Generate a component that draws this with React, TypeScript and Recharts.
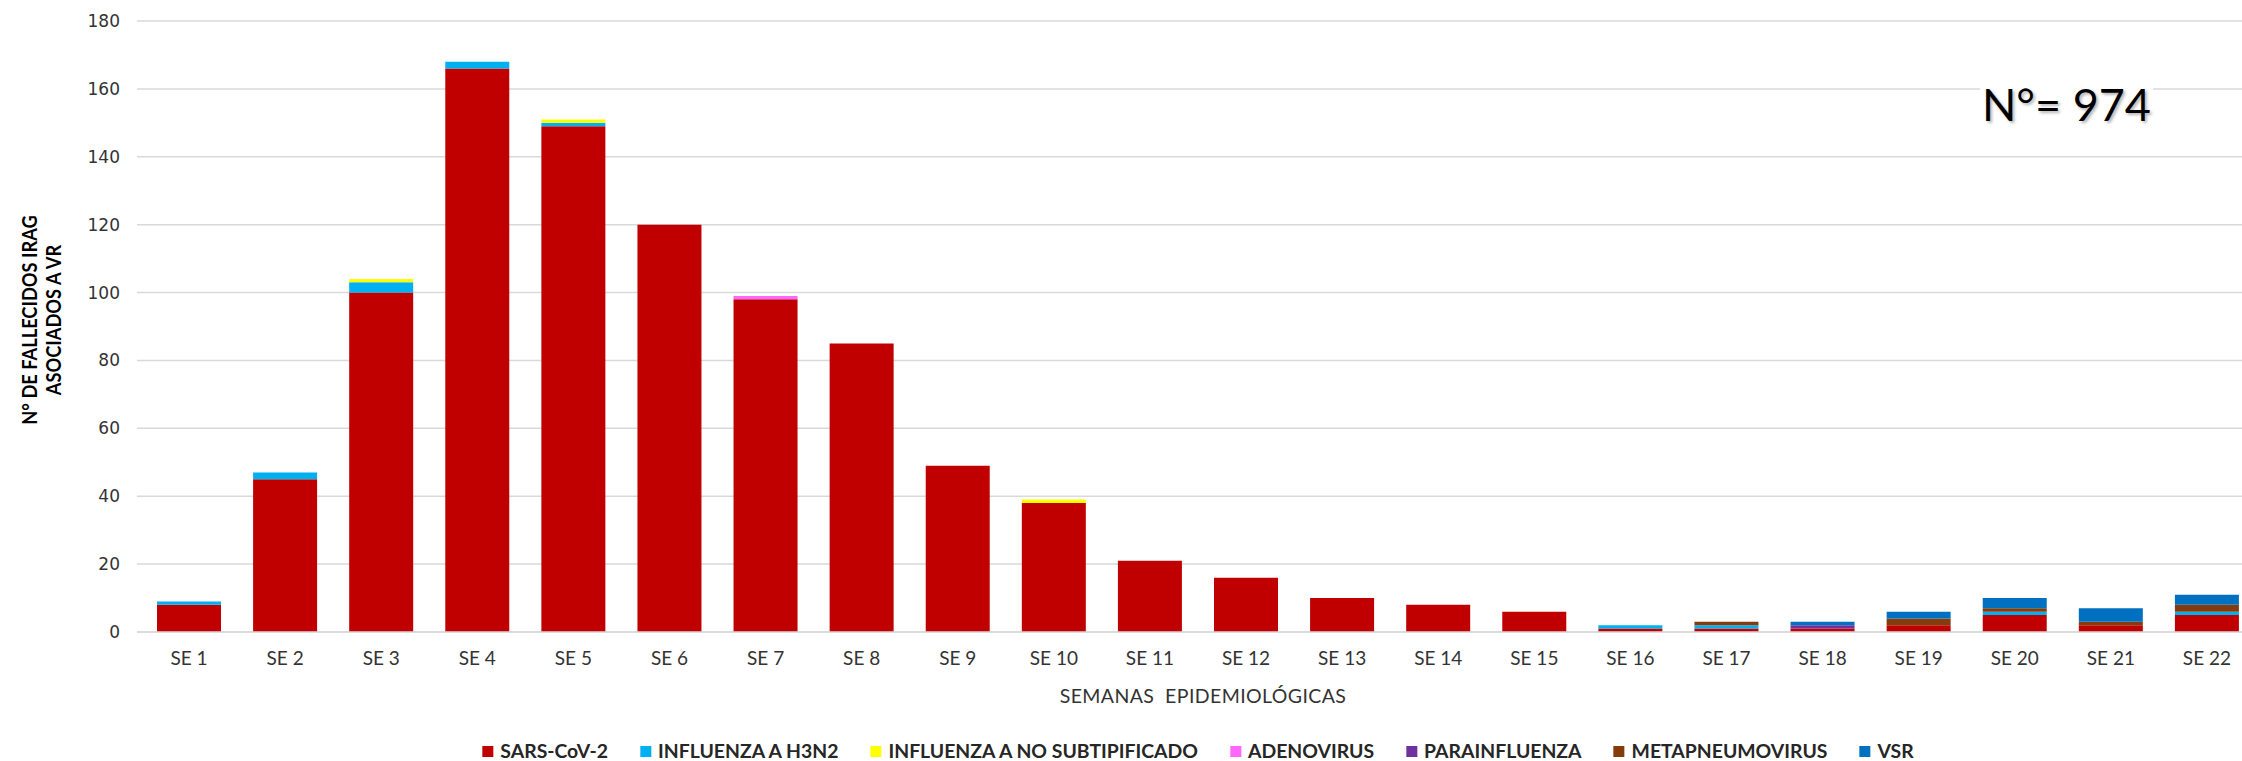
import React from "react";
import { BarChart, Bar, XAxis, YAxis, CartesianGrid } from "recharts";

const categories = [
  "SE 1", "SE 2", "SE 3", "SE 4", "SE 5", "SE 6", "SE 7", "SE 8", "SE 9", "SE 10", "SE 11",
  "SE 12", "SE 13", "SE 14", "SE 15", "SE 16", "SE 17", "SE 18", "SE 19", "SE 20", "SE 21", "SE 22",
];
const sarsCov2 = [8, 45, 100, 166, 149, 120, 98, 85, 49, 38, 21, 16, 10, 8, 6, 1, 1, 1, 2, 5, 2, 5];
const influenzaH3N2 = [1, 2, 3, 2, 1, 0, 0, 0, 0, 0, 0, 0, 0, 0, 0, 1, 1, 0, 0, 1, 0, 1];
const influenzaNoSub = [0, 0, 1, 0, 1, 0, 0, 0, 0, 1, 0, 0, 0, 0, 0, 0, 0, 0, 0, 0, 0, 0];
const adenovirus = [0, 0, 0, 0, 0, 0, 1, 0, 0, 0, 0, 0, 0, 0, 0, 0, 0, 0, 0, 0, 0, 0];
const parainfluenza = [0, 0, 0, 0, 0, 0, 0, 0, 0, 0, 0, 0, 0, 0, 0, 0, 0, 1, 0, 0, 0, 0];
const metapneumovirus = [0, 0, 0, 0, 0, 0, 0, 0, 0, 0, 0, 0, 0, 0, 0, 0, 1, 0, 2, 1, 1, 2];
const vsr = [0, 0, 0, 0, 0, 0, 0, 0, 0, 0, 0, 0, 0, 0, 0, 0, 0, 1, 2, 3, 4, 3];
const yTicks = [0, 20, 40, 60, 80, 100, 120, 140, 160, 180];
const totalLabel = "N°= 974";

const series = [
  { key: "sars", name: "SARS-CoV-2", color: "#C00000", values: sarsCov2 },
  { key: "h3n2", name: "INFLUENZA A H3N2", color: "#00B0F0", values: influenzaH3N2 },
  { key: "nosub", name: "INFLUENZA A NO SUBTIPIFICADO", color: "#FFFF00", values: influenzaNoSub },
  { key: "adeno", name: "ADENOVIRUS", color: "#FF66FF", values: adenovirus },
  { key: "para", name: "PARAINFLUENZA", color: "#7030A0", values: parainfluenza },
  { key: "metap", name: "METAPNEUMOVIRUS", color: "#843C0C", values: metapneumovirus },
  { key: "vsr", name: "VSR", color: "#0070C0", values: vsr },
];

const data = categories.map((name, i) => {
  const row: Record<string, string | number> = { name };
  series.forEach((s) => {
    row[s.key] = s.values[i];
  });
  return row;
});

export default function App() {
  return (
    <div
      style={{
        position: "fixed",
        left: 0,
        top: 0,
        width: 2242,
        height: 761,
        overflow: "hidden",
        background: "#ffffff",
      }}
    >
      <BarChart
        width={2255}
        height={761}
        data={data}
        margin={{ top: 21, right: 0, bottom: 0, left: 0 }}
        barSize={64}
      >
        <CartesianGrid vertical={false} stroke="#D9D9D9" strokeWidth={1.5} />
        <XAxis
          dataKey="name"
          height={129}
          interval={0}
          padding={{ left: 4, right: 0 }}
          tickLine={false}
          tickSize={0}
          tickMargin={20}
          axisLine={{ stroke: "#D9D9D9", strokeWidth: 1.5 }}
          tick={{ fontFamily: "Lato", fontSize: 19, fill: "#333333" }}
        />
        <YAxis
          width={137}
          domain={[0, 180]}
          ticks={yTicks}
          interval={0}
          tickLine={false}
          axisLine={false}
          tickSize={0}
          tickMargin={17}
          tick={{ fontFamily: "DejaVu Sans", fontSize: 17, fill: "#333333" }}
        />
        {series.map((s) => (
          <Bar
            key={s.key}
            dataKey={s.key}
            name={s.name}
            stackId="a"
            fill={s.color}
            isAnimationActive={false}
          />
        ))}
      </BarChart>

      {/* Y axis title */}
      <div
        style={{
          position: "absolute",
          left: 41,
          top: 320,
          transform: "translate(-50%, -50%) rotate(-90deg) scaleX(0.87)",
          fontFamily: "Lato",
          fontWeight: 700,
          fontSize: 21,
          lineHeight: "24px",
          color: "#000",
          textAlign: "center",
          whiteSpace: "nowrap",
        }}
      >
        <div>N° DE FALLECIDOS IRAG</div>
        <div>ASOCIADOS A VR</div>
      </div>

      {/* X axis title */}
      <div
        style={{
          position: "absolute",
          left: 1203,
          top: 684,
          transform: "translateX(-50%)",
          fontFamily: "Lato",
          fontSize: 19.5,
          letterSpacing: 0.4,
          lineHeight: "24px",
          color: "#333333",
          whiteSpace: "pre",
        }}
      >
        SEMANAS  EPIDEMIOLÓGICAS
      </div>

      {/* Legend */}
      <div
        style={{
          position: "absolute",
          left: 1198,
          top: 741,
          transform: "translateX(-50%)",
          display: "flex",
          alignItems: "center",
          gap: 32,
          fontFamily: "Lato",
          fontWeight: 700,
          fontSize: 19.4,
          lineHeight: "20px",
          color: "#262626",
          whiteSpace: "nowrap",
        }}
      >
        {series.map((s) => (
          <div key={s.key} style={{ display: "flex", alignItems: "center", gap: 7 }}>
            <span style={{ display: "inline-block", width: 11, height: 11, background: s.color }} />
            <span>{s.name}</span>
          </div>
        ))}
      </div>

      {/* Total annotation */}
      <div
        style={{
          position: "absolute",
          left: 1980,
          top: 80,
          fontFamily: "Lato",
          fontSize: 45,
          lineHeight: "48px",
          color: "#000",
          background: "#ffffff",
          textShadow: "2px 2px 3px rgba(0,0,0,0.3)",
          whiteSpace: "nowrap",
          padding: "0 2px",
        }}
      >
        {totalLabel}
      </div>
    </div>
  );
}
